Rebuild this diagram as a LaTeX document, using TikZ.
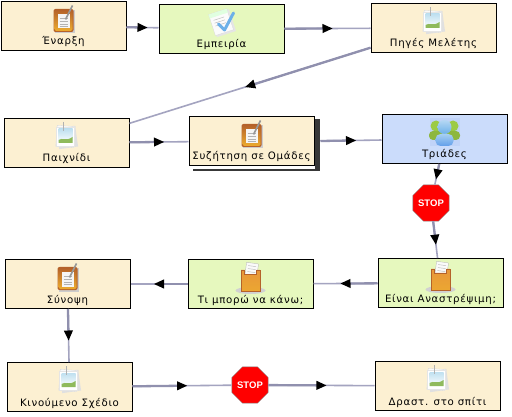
\documentclass[tikz,border=0pt]{standalone}
\usepackage{fontspec}
\setmainfont[LetterSpace=7]{DejaVu Sans}
\newfontfamily\stopfont{Liberation Sans}
\usetikzlibrary{shapes.geometric,decorations.markings}
\definecolor{FlowCream}{HTML}{FCF0D2}
\definecolor{FlowGreen}{HTML}{E6F8BE}
\definecolor{FlowBlue}{HTML}{CBDCFB}
\definecolor{FlowLine}{HTML}{A4A4C0}
\definecolor{FlowLineDark}{HTML}{9090AE}
\definecolor{NoteOrange}{HTML}{E8973A}
\definecolor{NoteEdge}{HTML}{B5622A}
\definecolor{IconGreen}{HTML}{8FBA5C}
\definecolor{IconSky}{HTML}{BFE0F0}
\definecolor{IconPerson}{HTML}{6CB0E8}
\definecolor{IconLeaf}{HTML}{9CCB45}
\definecolor{IconBack}{HTML}{C0D3F8}
\tikzset{
  stepbox/.style={draw=black,line width=1pt,inner sep=0pt,minimum width=125pt,text height=43.5pt,text depth=5.5pt,font=\fontsize{10.2}{12}\selectfont},
  creambox/.style={stepbox,fill=FlowCream},
  greenbox/.style={stepbox,fill=FlowGreen},
  bluebox/.style={stepbox,fill=FlowBlue},
  stopsign/.style={regular polygon,regular polygon sides=8,minimum size=37pt,inner sep=0pt,draw=gray,fill=red,text=white,font=\stopfont\bfseries\fontsize{9.5}{10}\selectfont},
  flowline/.style={draw=FlowLine,line width=1.6pt,postaction={decorate},decoration={markings,mark=at position .5 with {
    \draw[FlowLineDark,line width=2.3pt] ({-0.5*\pgfdecoratedpathlength},0)--(0,0);
    \fill[black] (5,0)--(-5,4.6)--(-5,-4.6)--cycle;}}},
  noteicon/.pic={
    \fill[black!20] (-9,-10) rectangle (11,13);
    \fill[NoteEdge,rounded corners=2pt] (-10,-11.5) rectangle (10,11.5);
    \shade[top color=NoteEdge,bottom color=NoteOrange!80!yellow,rounded corners=1.5pt] (-9,-10.5) rectangle (9,10.5);
    \fill[white!92!gray] (-6,-6) rectangle (6,8);
    \foreach \y in {-2,1,4,6} \draw[gray!60,line width=.5pt] (-4,\y)--(4,\y);
    \draw[gray!80,line width=1.6pt] (2,-1)--(9,-15);
  },
  photoicon/.pic={
    \fill[black!12,rotate=8] (-9,-9) rectangle (10,12);
    \fill[white!96!gray,draw=black!15,line width=.3pt,rotate=-4] (-10,-10) rectangle (8,11);
    \fill[white,draw=black!10,line width=.3pt] (-10,-9) rectangle (8,10);
    \shade[top color=IconSky,bottom color=white] (-8,-7) rectangle (6,7);
    \fill[IconGreen] (-8,7)--(-8,4)..controls (-4,1) and (-1,6) .. (6,1)--(6,7)--cycle;
    \draw[gray!60,line width=1.2pt] (-3,-14)--(-3,-5);
  },
  checkicon/.pic={
    \fill[black!10,rotate=18] (-9,-10) rectangle (11,13);
    \fill[white!97!gray,draw=black!15,line width=.3pt,rotate=18] (-10,-11) rectangle (9,11);
    \fill[green!12!white,rotate=18] (-10,-11) rectangle (9,-7);
    \foreach \y in {-4,-1,2} \draw[gray!50,line width=.5pt,rotate=18] (-7,\y)--(4,\y);
    \draw[IconPerson,line width=3pt,line cap=round,line join=round] (-3,2)--(3,8)--(12,-9);
  },
  peopleicon/.pic={
    \fill[IconBack] (-15,-14) rectangle (15,14);
    \foreach \x in {-8.5,8.5}{
      \fill[IconLeaf] (\x,-6) circle (5.5);
      \fill[IconLeaf!90!black,rounded corners=4pt] (\x-7,-1) rectangle (\x+7,8);}
    \shade[top color=IconPerson!50!white,bottom color=IconPerson] (0,-5) circle (7);
    \shade[top color=IconPerson!60!white,bottom color=IconPerson!90!blue,rounded corners=5pt] (-9,2) rectangle (9,14);
  },
  boxicon/.pic={
    \fill[black!18] (0,12.5) ellipse (15 and 3.5);
    \fill[white!96!gray,draw=black!30,line width=.3pt,rotate=-8] (-6,-15) rectangle (6,2);
    \foreach \y in {-12,-9,-6} \draw[gray!50,line width=.5pt,rotate=-8] (-4,\y)--(4,\y);
    \shade[top color=NoteOrange,bottom color=NoteOrange!85!yellow,draw=NoteEdge,line width=.3pt] (-9.5,-8)--(-6,-8)--(-6,-4)--(6,-4)--(6,-8)--(9.5,-8)--(9.5,13)--(-9.5,13)--cycle;
  }
}
\begin{document}
\begin{tikzpicture}[x=1pt,y=-1pt,line cap=butt]
  \useasboundingbox (0,0) rectangle (512,417);
  \fill[white] (0,0) rectangle (512,417);
  \node[creambox] (enarxi) at (63.5,26) {Έναρξη};
  \node[greenbox] (empeiria) at (221.5,29) {Εμπειρία};
  \node[creambox] (piges) at (433.5,28) {Πηγές Μελέτης};
  \node[creambox] (paixnidi) at (66.5,143) {Παιχνίδι};
  \fill[black!78] (193,119.5) rectangle (320,171.5); \fill[white] (193,166.5) rectangle (314.5,169);
  \node[creambox] (syzitisi) at (251.5,141) {Συζήτηση σε Ομάδες};
  \node[bluebox] (triades) at (444.5,139) {Τριάδες};
  \node[stopsign] (stopa) at (431,203) {STOP};
  \node[greenbox] (anastrepsimi) at (440.5,283) {Είναι Αναστρέψιμη;};
  \node[greenbox] (tiboro) at (250.5,284) {Τι μπορώ να κάνω;};
  \node[creambox] (synopsi) at (67.5,284) {Σύνοψη};
  \node[creambox] (kinoumeno) at (69.5,387) {Κινούμενο Σχέδιο};
  \node[stopsign] (stopb) at (250,385) {STOP};
  \node[creambox] (spiti) at (437.5,386) {Δραστ. στο σπίτι};

  \pic at ([yshift=5.5pt]enarxi.center) {noteicon}; \pic at ([yshift=7pt]empeiria.center) {checkicon}; \pic at ([yshift=7pt]piges.center) {photoicon};
  \pic at ([yshift=7pt]paixnidi.center) {photoicon}; \pic at ([yshift=5.5pt]syzitisi.center) {noteicon}; \pic at ([yshift=7pt]triades.center) {peopleicon};
  \pic at ([yshift=6pt]anastrepsimi.center) {boxicon}; \pic at ([yshift=6pt]tiboro.center) {boxicon}; \pic at ([yshift=5.5pt]synopsi.center) {noteicon};
  \pic at ([yshift=7pt]kinoumeno.center) {photoicon}; \pic at ([yshift=7pt]spiti.center) {photoicon};

  \draw[flowline] (enarxi)--(empeiria); \draw[flowline] (empeiria)--(piges); \draw[flowline] (piges)--(paixnidi);
  \draw[flowline] (paixnidi)--(syzitisi); \draw[flowline] ([xshift=6pt]syzitisi.east)--(triades);
  \draw[flowline] (triades)--(stopa); \draw[flowline] (stopa)--(anastrepsimi);
  \draw[flowline] (anastrepsimi)--(tiboro); \draw[flowline] (tiboro)--(synopsi); \draw[flowline] (synopsi)--(kinoumeno);
  \draw[flowline] (kinoumeno)--(stopb); \draw[flowline] (stopb)--(spiti);
\end{tikzpicture}
\end{document}
